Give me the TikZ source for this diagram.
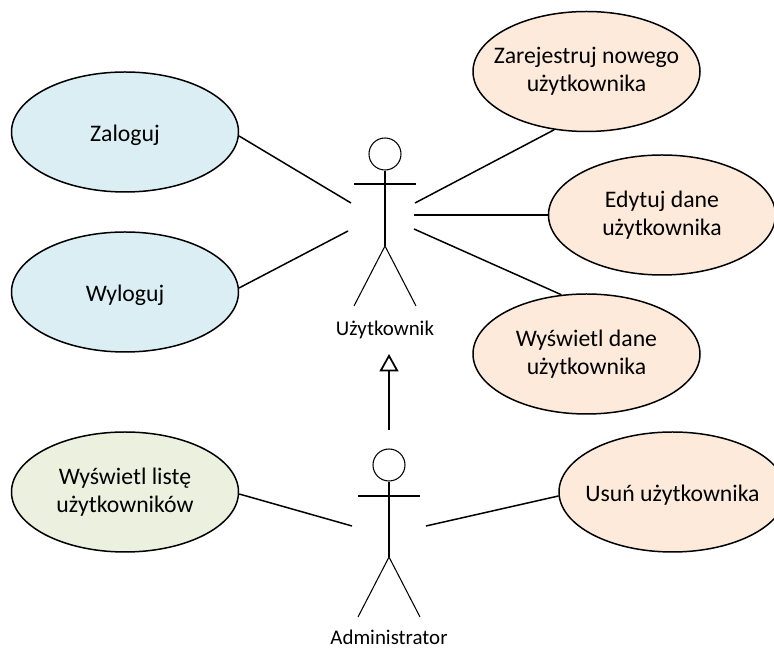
\documentclass[tikz,border=0pt]{standalone}
\usepackage{fontspec}
\setmainfont{Carlito}
\usetikzlibrary{shapes.geometric,arrows.meta}
\definecolor{caseblue}{HTML}{DAEEF3}
\definecolor{caseorange}{HTML}{FDEADA}
\definecolor{casegreen}{HTML}{EBF1DE}
\tikzset{
	usecase/.style={draw,ellipse,line width=0.85pt,inner xsep=-10mm,inner ysep=0pt,minimum width=45.4mm,minimum height=24mm,align=center,font=\fontsize{13.5}{16}\selectfont,execute at begin node={\rule{0pt}{4.6mm}}},
	link/.style={line width=0.85pt},
	stick/.style={line width=0.6pt},
	head/.style={draw,stick,circle,inner sep=0pt,minimum size=6.4mm},
	actorname/.style={anchor=base,inner sep=0pt,font=\fontsize{11.9}{14}\selectfont}
}
\begin{document}
\begin{tikzpicture}[x=0.2mm,y=-0.2mm]
	\useasboundingbox (0,0) rectangle (774,648);
	% use cases
	\node[usecase,fill=caseblue] (zaloguj) at (125,132) {Zaloguj};
	\node[usecase,fill=caseblue] (wyloguj) at (125,292) {Wyloguj};
	\node[usecase,fill=casegreen] (lista) at (125,492) {Wyświetl listę\\użytkowników};
	\node[usecase,fill=caseorange] (nowy) at (586.5,71.5) {Zarejestruj nowego\\użytkownika};
	\node[usecase,fill=caseorange] (edytuj) at (662,215) {Edytuj dane\\użytkownika};
	\node[usecase,fill=caseorange] (dane) at (586.5,354) {Wyświetl dane\\użytkownika};
	\node[usecase,fill=caseorange] (usun) at (672.5,492) {Usuń użytkownika};
	% first actor
	\node[head] (glowaU) at (385,154) {};
	\coordinate (biodroU) at (385,246);
	\coordinate (ramieUl) at (354,184);
	\coordinate (ramieUp) at (416,184);
	\coordinate (nogaUl) at (354,306);
	\coordinate (nogaUp) at (416,306);
	\draw[stick] (glowaU) -- (biodroU);
	\draw[stick] (ramieUl) -- (ramieUp);
	\draw[stick] (nogaUl) -- (biodroU) -- (nogaUp);
	\node[actorname] (uzytkownik) at (385,336) {Użytkownik};
	% second actor
	\node[head] (glowaA) at (389,465) {};
	\coordinate (biodroA) at (389,557);
	\coordinate (ramieAl) at (358,496);
	\coordinate (ramieAp) at (420,496);
	\coordinate (nogaAl) at (358,617);
	\coordinate (nogaAp) at (420,617);
	\draw[stick] (glowaA) -- (biodroA);
	\draw[stick] (ramieAl) -- (ramieAp);
	\draw[stick] (nogaAl) -- (biodroA) -- (nogaAp);
	\node[actorname] (administrator) at (389,645) {Administrator};
	% connectors
	\coordinate (u1) at (351,203);
	\coordinate (u2) at (348,231);
	\coordinate (u3) at (415,203);
	\coordinate (u4) at (414,215);
	\coordinate (u5) at (414,229);
	\coordinate (a1) at (352,526);
	\coordinate (a2) at (426,526);
	\coordinate (a3) at (389,430);
	\coordinate (u6) at (389,354);
	\draw[link] (zaloguj.-2) -- (u1);
	\draw[link] (wyloguj.2.5) -- (u2);
	\draw[link] (nowy.-119.8) -- (u3);
	\draw[link] (edytuj.west) -- (u4);
	\draw[link] (dane.113.5) -- (u5);
	\draw[link] (lista.-1.5) -- (a1);
	\draw[link] (usun.182) -- (a2);
	\draw[line width=1pt,-{Triangle[open,length=3.5mm,width=3.8mm]}] (a3) -- (u6);
\end{tikzpicture}
\end{document}
